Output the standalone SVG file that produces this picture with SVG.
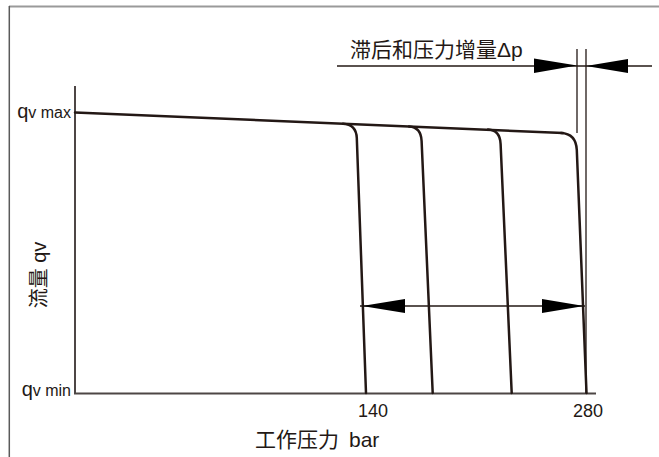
<svg xmlns="http://www.w3.org/2000/svg" width="659" height="457" viewBox="0 0 659 457">
<style>
text{font-family:"Liberation Sans","Noto Sans CJK SC",sans-serif;fill:#231815}
.axis{stroke:#4d4645;stroke-width:2;fill:none}
.curve{stroke:#231815;stroke-width:2.5;fill:none;stroke-linecap:round}
.dim{stroke:#231815;stroke-width:1.3;fill:none}
.head{fill:#000}
</style>
<rect width="659" height="457" fill="#fff"/>
<g id="frame">
<line x1="9" y1="6.5" x2="659" y2="6.5" stroke="#9a9a9a" stroke-width="2"/>
<line x1="9.3" y1="6" x2="9.3" y2="457" stroke="#5a5a5a" stroke-width="1.5"/>
</g>
<g id="axes">
<polyline class="axis" points="75,86 75,393.5 596,393.5"/>
</g>
<g id="connectors">
<path id="qmax-line" class="curve" d="M75,112.5 L563,133"/>
<path id="curve1" class="curve" d="M343,123.7 Q356.2,124.3 356.8,138 L366,393"/>
<path id="curve2" class="curve" d="M409,126.5 Q421,127.1 421.6,141 L432.7,393"/>
<path id="curve3" class="curve" d="M488,129.6 Q500,130.2 500.6,144 L511.7,393"/>
<path id="curve4" class="curve" d="M561,133 Q576,133.6 576.8,150 L586.5,393"/>
<line class="dim" x1="577" y1="49" x2="577" y2="133"/>
<line class="dim" x1="586" y1="49" x2="586" y2="393"/>
<line class="dim" x1="337" y1="66" x2="652" y2="66"/>
<polygon class="head" points="534,58.5 577,65.5 534,73"/>
<polygon class="head" points="628,59 586,66 628,73"/>
<line class="dim" x1="360" y1="306" x2="585" y2="306"/>
<polygon class="head" points="405,299 362,306 405,313"/>
<polygon class="head" points="542,299 584,306 542,313"/>
</g>
<g id="labels">
<text id="hysteresis" x="350" y="57" font-size="21">滞后和压力增量Δp</text>
<text id="qvmax" x="71" y="118" text-anchor="end"><tspan font-size="20">q</tspan><tspan font-size="16">v max</tspan></text>
<text id="qvmin" x="71" y="396" text-anchor="end"><tspan font-size="20">q</tspan><tspan font-size="16">v min</tspan></text>
<text id="flow" transform="translate(46,275) rotate(-90)" text-anchor="middle" font-size="20">流量 qv</text>
<text id="p140" x="373" y="417" text-anchor="middle" font-size="18">140</text>
<text id="p280" x="588" y="417" text-anchor="middle" font-size="18">280</text>
<text id="xlabel" x="255" y="447" font-size="21">工作压力<tspan x="349">bar</tspan></text>
</g>
</svg>
